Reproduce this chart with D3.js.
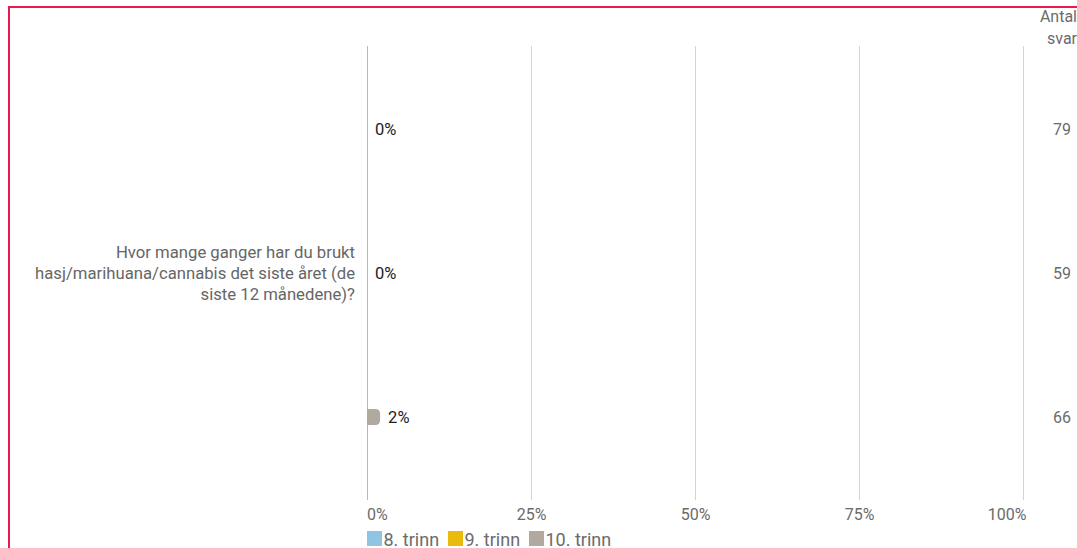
<!DOCTYPE html>
<html><head><meta charset="utf-8">
<script src="https://cdn.jsdelivr.net/npm/d3@7"></script>
<style>
html,body{margin:0;padding:0;background:#fff;overflow:hidden}
svg{display:block;font-family:Roboto,"Noto Sans",sans-serif}
</style></head><body>
<svg id="c" width="1077" height="548"></svg>
<script>
const series = ["8. trinn", "9. trinn", "10. trinn"];
const values = [0, 0, 2];
const counts = [79, 59, 66];
const colors = ["#8fc4e3", "#e8bb0c", "#b1a8a0"];
const ticks = [0, 25, 50, 75, 100];
const questionLines = ["Hvor mange ganger har du brukt", "hasj/marihuana/cannabis det siste året (de", "siste 12 månedene)?"];
const countHeader = ["Antal", "svar"];

const svg = d3.select("#c");
// frame
svg.append("path").attr("d","M9,549 V7 H1077").attr("fill","none").attr("stroke","#e8194c").attr("stroke-width",2);

const x = d3.scaleLinear().domain([0,100]).range([367.5,1023.5]);
const y = d3.scaleBand().domain(series).range([57,489]);

// gridlines
svg.append("g").selectAll("line").data(ticks).join("line")
  .attr("x1",d=>x(d)).attr("x2",d=>x(d)).attr("y1",46).attr("y2",500)
  .attr("stroke",d=>d===0?"#b8b8b8":"#d4d4d4").attr("stroke-width",1);

// tick labels (first left-aligned, last right-aligned to stay in bounds)
svg.append("g").selectAll("text").data(ticks).join("text")
  .attr("x",(d,i)=>i===0?x(d)-0.5:(i===ticks.length-1?x(d)+3:x(d)))
  .attr("y",520)
  .attr("text-anchor",(d,i)=>i===0?"start":(i===ticks.length-1?"end":"middle"))
  .attr("font-size",16).attr("fill","#6b6b6b").text(d=>d+"%");

// bars
const bh = 16, r = 5;
svg.append("g").selectAll("path").data(series).join("path")
  .attr("d",(s,i)=>{
    const x0 = x(0)-0.5, w = x(values[i])-x(0);
    if (w<=0) return "";
    const yc = y(s)+y.bandwidth()/2, y0 = yc-bh/2;
    const rr = Math.min(r,w);
    return `M${x0},${y0} H${x0+w-rr} Q${x0+w},${y0} ${x0+w},${y0+rr} V${y0+bh-rr} Q${x0+w},${y0+bh} ${x0+w-rr},${y0+bh} H${x0} Z`;
  })
  .attr("fill",(s,i)=>colors[i]);

// value labels
svg.append("g").selectAll("text").data(series).join("text")
  .attr("x",(s,i)=>x(values[i])+7.5).attr("y",s=>y(s)+y.bandwidth()/2+6)
  .attr("font-size",16.5).attr("fill","#222").text((s,i)=>values[i]+"%");

// counts
svg.append("g").selectAll("text").data(series).join("text")
  .attr("x",1071).attr("y",s=>y(s)+y.bandwidth()/2+6).attr("text-anchor","end")
  .attr("font-size",16).attr("fill","#6b6b6b").text((s,i)=>counts[i]);

svg.append("g").selectAll("text").data(countHeader).join("text")
  .attr("x",1077).attr("y",(d,i)=>22+i*22).attr("text-anchor","end")
  .attr("font-size",16).attr("fill","#6b6b6b").text(d=>d);

// question label
const qy = y("9. trinn")+y.bandwidth()/2;
svg.append("g").selectAll("text").data(questionLines).join("text")
  .attr("x",355).attr("y",(d,i)=>qy+6+(i-1)*21).attr("text-anchor","end")
  .attr("font-size",16.7).attr("fill","#666").text(d=>d);

// legend
const lx = [367, 448, 529];
const lg = svg.append("g").selectAll("g").data(series).join("g")
  .attr("transform",(d,i)=>`translate(${lx[i]},531)`);
lg.append("rect").attr("width",15).attr("height",15).attr("fill",(d,i)=>colors[i]);
lg.append("text").attr("x",16.5).attr("y",14.5).attr("font-size",18).attr("fill","#6b6b6b").text(d=>d);
</script></body></html>
